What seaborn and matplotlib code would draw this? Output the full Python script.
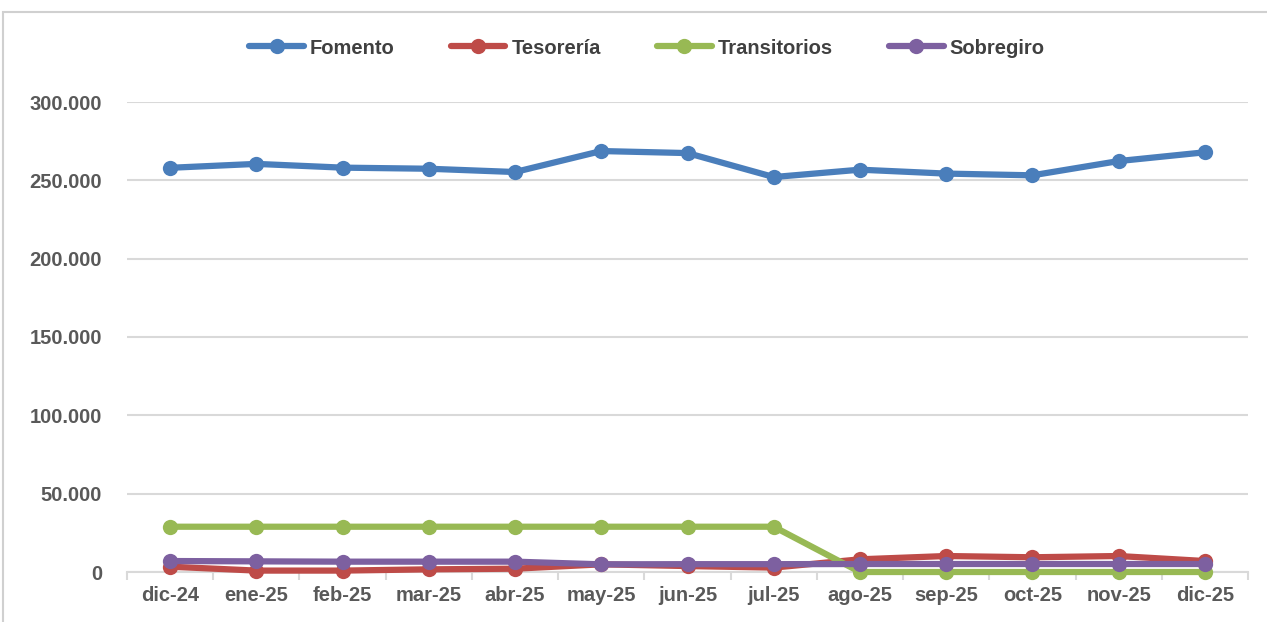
import matplotlib
matplotlib.use("Agg")
import matplotlib.pyplot as plt
import matplotlib.patches as mpatches
from matplotlib.ticker import FixedLocator, FuncFormatter
import seaborn as sns
import pandas as pd

months = ["dic-24", "ene-25", "feb-25", "mar-25", "abr-25", "may-25", "jun-25",
          "jul-25", "ago-25", "sep-25", "oct-25", "nov-25", "dic-25"]
fomento = [258000, 260500, 258100, 257400, 255300, 268700, 267400,
           252100, 256800, 254300, 253200, 262300, 267900]
tesoreria = [3400, 900, 900, 1700, 2100, 4900, 3800,
             2800, 8100, 10200, 9400, 10200, 7000]
transitorios = [28900, 28900, 28900, 28900, 28900, 28900, 28900,
                28900, 0, 0, 0, 0, 0]
sobregiro = [7000, 6800, 6600, 6600, 6600, 4900, 5000,
             5000, 5100, 5100, 5100, 5100, 5100]
series_names = ["Fomento", "Tesorería", "Transitorios", "Sobregiro"]
colors = ["#4A7EBB", "#BE4B48", "#98B954", "#7D60A0"]

df = pd.concat([
    pd.DataFrame({"mes": months, "valor": vals, "serie": name})
    for name, vals in zip(series_names, [fomento, tesoreria, transitorios, sobregiro])
], ignore_index=True)

sns.set_theme(style="white")
plt.rcParams["font.family"] = ["Liberation Sans", "DejaVu Sans"]

fig = plt.figure(figsize=(12.67, 6.22), dpi=100)
ax = fig.add_axes([127 / 1267, 1 - 572 / 622, (1248 - 127) / 1267, (572 - 102) / 622])

sns.lineplot(data=df, x="mes", y="valor", hue="serie", hue_order=series_names,
             palette=colors, marker="o", markersize=11, markeredgewidth=0,
             linewidth=4.5, sort=False, ax=ax, legend=True, clip_on=False)

ax.set_xlim(-0.5, len(months) - 0.5)
ax.set_ylim(0, 300000)
ax.set_xlabel("")
ax.set_ylabel("")

ax.yaxis.set_major_locator(FixedLocator([0, 50000, 100000, 150000, 200000, 250000, 300000]))
ax.yaxis.set_major_formatter(FuncFormatter(lambda v, p: f"{v:,.0f}".replace(",", ".")))
ax.grid(axis="y", color="#D9D9D9", linewidth=1.5)
ax.grid(axis="x", visible=False)
ax.set_axisbelow(True)

for s in ["left", "right", "top"]:
    ax.spines[s].set_visible(False)
ax.spines["bottom"].set_color("#D9D9D9")
ax.spines["bottom"].set_linewidth(1.5)
ax.spines["bottom"].set_zorder(0.5)

ax.set_xticks(range(len(months)))
ax.set_xticklabels(months)
ax.set_xticks([i - 0.5 for i in range(len(months) + 1)], minor=True)
ax.tick_params(axis="x", which="major", length=0, pad=10, labelsize=14.5,
               labelcolor="#595959")
ax.tick_params(axis="x", which="minor", length=6, width=1.5, color="#D9D9D9",
               direction="out", bottom=True)
ax.tick_params(axis="y", length=0, pad=18, labelsize=14.5, labelcolor="#595959")
for lab in ax.get_xticklabels() + ax.get_yticklabels():
    lab.set_fontweight("bold")

handles, labels = ax.get_legend_handles_labels()
ax.legend(handles, labels, loc="center", bbox_to_anchor=(647 / 1267, 1 - 48 / 622),
          bbox_transform=fig.transFigure, ncol=4, frameon=False,
          prop={"weight": "bold", "size": 14.5}, labelcolor="#404040",
          handlelength=2.7, handletextpad=0.3, columnspacing=2.8)

border = mpatches.Rectangle((3 / 1267, -0.05), 1.1, 1 - 12 / 622 + 0.05,
                            transform=fig.transFigure, fill=False,
                            edgecolor="#D0D0D0", linewidth=1.5)
fig.patches.append(border)

fig.savefig("out.png", dpi=100, facecolor="white")
